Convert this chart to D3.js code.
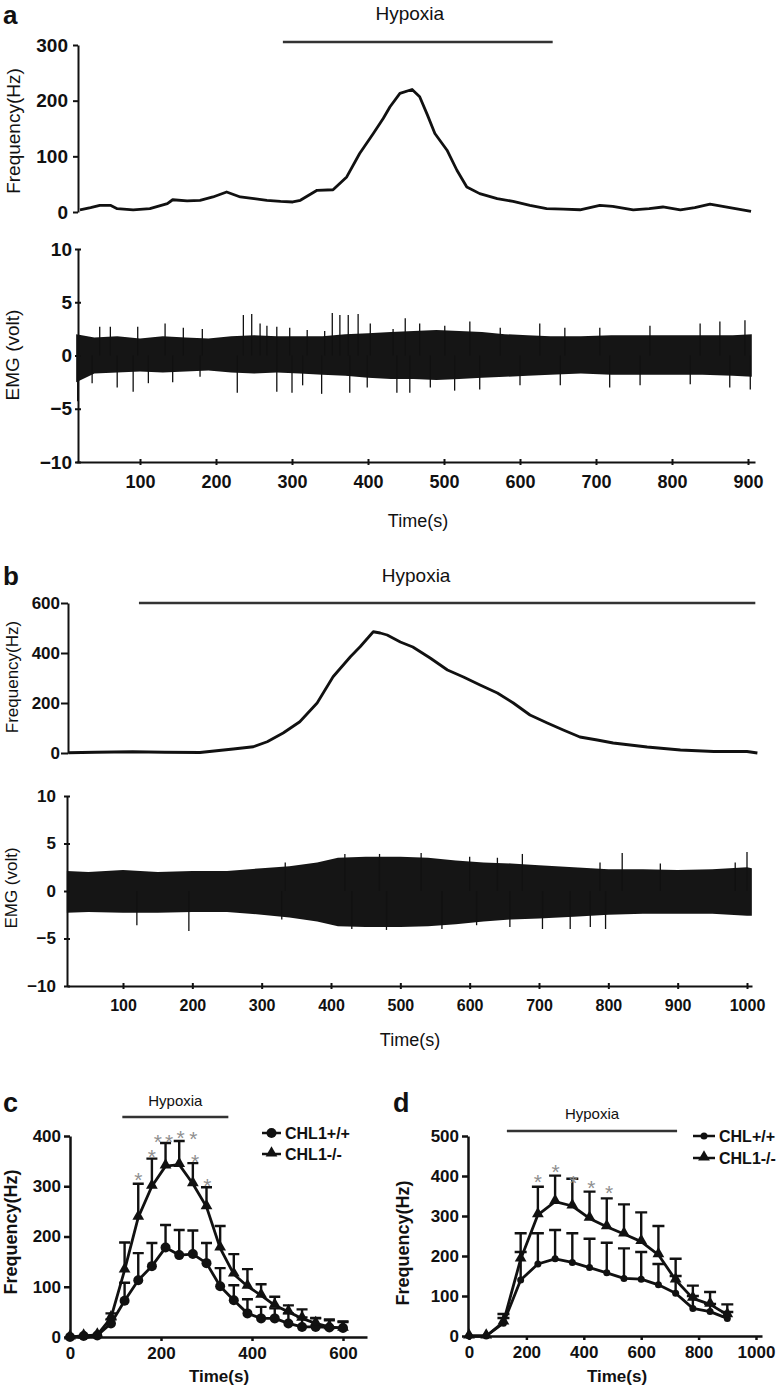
<!DOCTYPE html>
<meta charset="utf-8">
<style>
body { margin: 0; background: #fff; }
text { font-family: "Liberation Sans", Arial, sans-serif; fill: #111; }
.trace { fill: none; stroke: #111; stroke-width: 2.8; stroke-linejoin: round; }
.bar { stroke: #333; stroke-width: 2.6; }
.spike { stroke: #111; stroke-width: 1.3; }
.err { stroke: #111; stroke-width: 2.4; fill: none; }
.star { fill: #8f8f8f; }
</style>
<body></body>
<script src="https://cdn.jsdelivr.net/npm/d3@7"></script>
<script>

// ---- panel a : frequency trace [time s, Hz]
var freqA = [[21,4],[35,8],[47,12],[61,12],[70,6],[91,4],[113,6],[136,15],[143,22],[162,20],[179,21],
  [196,27],[214,36],[232,27],[250,24],[267,21],[285,19],[301,18],[311,21],[333,39],[354,40],[372,63],
  [389,105],[407,141],[420,168],[429,189],[442,213],[458,220],[468,207],[478,175],[488,141],[504,111],
  [517,75],[530,45],[547,33],[570,24],[591,19],[613,12],[635,6],[657,5],[679,4],[705,12],[722,10],
  [749,4],[770,6],[788,9],[811,4],[830,8],[850,14],[876,8],[904,1]];
var hypoxiaA = [288, 643];

// panel a : EMG envelope [time, upper, lower] (volt) and single spikes [time, volt]
var emgA = [[16,2.0,-2.5],[40,1.7,-1.7],[70,1.8,-1.6],[100,1.6,-1.5],[130,1.8,-1.6],[160,1.7,-1.5],
  [190,1.6,-1.4],[220,1.8,-1.6],[250,1.9,-1.7],[280,1.8,-1.6],[310,1.8,-1.7],[340,1.8,-1.8],[370,2.0,-1.9],
  [400,2.1,-2.1],[430,2.2,-2.2],[460,2.3,-2.2],[490,2.4,-2.3],[520,2.3,-2.2],[550,2.2,-2.1],[580,2.0,-2.0],
  [610,1.9,-1.9],[640,1.8,-1.8],[680,1.8,-1.7],[720,1.9,-1.8],[760,1.9,-1.8],[800,1.9,-1.8],[840,1.9,-1.8],
  [880,1.9,-1.9],[905,2.0,-2.0]];
var spikesA = [[47,2.7],[61,2.7],[97,2.7],[133,3.0],[157,2.6],[182,2.5],[236,3.8],[247,3.9],[258,3.0],
  [267,2.8],[280,2.7],[297,2.6],[320,2.4],[343,2.3],[353,4.0],[363,3.8],[374,3.8],[387,3.9],[403,3.0],
  [433,2.5],[449,3.5],[468,3.0],[501,2.8],[534,3.2],[574,2.6],[626,3.0],[659,2.6],[705,2.6],[771,2.8],
  [837,3.0],[863,3.2],[896,3.3],
  [18,-4.3],[37,-2.6],[70,-3.0],[91,-3.4],[111,-2.6],[143,-2.5],[179,-2.0],[228,-3.5],[280,-3.4],
  [300,-3.5],[314,-2.8],[339,-3.6],[376,-3.5],[399,-3.0],[438,-3.5],[455,-3.5],[482,-3.0],[514,-3.3],
  [547,-3.2],[600,-2.8],[653,-2.8],[718,-3.0],[758,-2.8],[824,-2.7],[876,-3.0],[903,-3.2]];

// ---- panel b
var freqB = [[21,1],[60,3],[114,5],[160,3],[211,2],[259,16],[288,25],[308,45],[331,80],[355,125],
  [380,200],[403,305],[428,385],[442,425],[461,485],[471,480],[481,472],[500,444],[518,424],[543,380],
  [568,332],[591,304],[615,272],[640,240],[663,200],[687,152],[712,120],[735,92],[759,64],[784,52],
  [807,40],[856,24],[904,12],[952,6],[1000,6],[1015,0]];
var hypoxiaB = [123, 1012];
var emgB = [[19,2.1,-2.3],[50,2.0,-2.2],[100,2.2,-2.3],[150,2.0,-2.3],[200,2.1,-2.2],[250,2.1,-2.2],
  [300,2.4,-2.5],[340,2.6,-2.8],[380,3.0,-3.2],[410,3.5,-3.7],[450,3.6,-3.8],[500,3.6,-3.8],[540,3.5,-3.7],
  [580,3.2,-3.5],[620,3.0,-3.2],[660,2.9,-3.0],[700,2.7,-2.9],[750,2.5,-2.7],[800,2.3,-2.5],[850,2.3,-2.4],
  [900,2.2,-2.4],[950,2.3,-2.4],[1000,2.5,-2.6],[1007,2.4,-2.6]];
var spikesB = [[334,3.0],[420,3.9],[470,3.9],[530,4.0],[600,3.6],[640,3.5],[676,3.9],[788,3.0],[820,4.0],
  [875,2.9],[983,3.0],[1000,4.1],
  [120,-3.6],[195,-4.2],[329,-3.0],[430,-4.0],[480,-4.1],[560,-4.0],[610,-3.6],[658,-3.8],[705,-4.0],
  [745,-4.0],[774,-3.8],[796,-4.0]];

// ---- panel c : mean and SEM, every 30 s
var timeC = [0,30,60,90,120,150,180,210,240,270,300,330,360,390,420,450,480,510,540,570,600];
var wtC   = [0,2,3,27,72,113,141,178,163,165,147,101,73,47,37,37,27,20,20,19,18];
var wtCsem = [0,0,0,8,36,54,46,45,50,47,40,36,30,28,23,20,20,19,17,14,12];
var koC   = [0,2,4,38,133,238,300,340,343,305,259,177,125,101,83,63,50,37,27,20,17];
var koCsem = [0,0,0,9,55,67,55,46,47,41,39,44,40,34,22,17,13,18,11,15,14];
var starsC = [[150,322],[180,369],[193,399],[218,399],[243,405],[271,404],[275,359],[302,311]];
var hypoxiaC = [115, 348];
var legendC = ["CHL1+/+", "CHL1-/-"];

// ---- panel d : mean and SEM, every 60 s
var timeD = [0,60,120,180,240,300,360,420,480,540,600,660,720,780,840,900];
var wtD   = [0,0,32,140,180,193,184,171,158,144,142,128,107,69,61,44];
var wtDsem = [0,0,13,70,77,72,73,72,75,75,68,52,43,31,19,16];
var koD   = [0,0,35,192,303,336,325,294,273,255,236,203,140,94,79,53];
var koDsem = [0,0,20,65,70,65,68,67,71,74,73,72,53,32,31,26];
var starsD = [[240,397],[302,423],[364,394],[426,383],[488,369]];
var hypoxiaD = [132, 725];
var legendD = ["CHL+/+", "CHL1-/-"];

var FONT = "'Liberation Sans', Arial, sans-serif";
var fmt = d3.format("d");
var svg = d3.select("body").append("svg").attr("width", 783).attr("height", 1390);

function styleAxis(g, fs, bold, sw) {
  g.attr("font-family", FONT).attr("font-size", fs).attr("font-weight", bold ? "bold" : "normal");
  g.selectAll("path, line").attr("stroke", "#111").attr("stroke-width", sw);
  g.selectAll("text").attr("fill", "#111");
}
function crossTicksY(g, s) { g.selectAll(".tick line").attr("x1", s).attr("x2", -s); }
function crossTicksX(g, s) { g.selectAll(".tick line").attr("y1", -s).attr("y2", s); }

function label(x, y, txt, fs, bold, rotate, anchor) {
  svg.append("text")
    .attr("transform", "translate(" + x + "," + y + ")" + (rotate ? " rotate(-90)" : ""))
    .attr("text-anchor", anchor || "middle")
    .attr("font-size", fs).attr("font-weight", bold ? "bold" : "normal")
    .text(txt);
}

function hypoxia(x, range, yBar, yText, fs, shift) {
  svg.append("line").attr("class", "bar")
    .attr("x1", x(range[0])).attr("x2", x(range[1])).attr("y1", yBar).attr("y2", yBar);
  svg.append("text").attr("x", (x(range[0]) + x(range[1])) / 2 + (shift || 0)).attr("y", yText)
    .attr("text-anchor", "middle").attr("font-size", fs).text("Hypoxia");
}

// ================= panel a =================
var xA = d3.scaleLinear().domain([100, 900]).range([140, 748]);
xA.domain([xA.invert(76), xA.invert(755)]).range([76, 755]);
var yAf = d3.scaleLinear().domain([0, 300]).range([212, 45]);
var yAe = d3.scaleLinear().domain([-10, 10]).range([462, 249]);

label(3, 24, "a", 26, true, false, "start");
hypoxia(xA, hypoxiaA, 42, 20, 19, -8);

svg.append("g").attr("transform", "translate(78,0)")
  .call(d3.axisLeft(yAf).tickValues([0, 100, 200, 300]).tickSizeInner(5).tickSizeOuter(0).tickPadding(5))
  .call(styleAxis, 19, true, 2);
svg.append("path").datum(freqA).attr("class", "trace")
  .attr("d", d3.line().x(d => xA(d[0])).y(d => yAf(d[1])));
label(20, 131, "Frequency(Hz)", 19, false, true);

svg.append("path").datum(emgA).attr("fill", "#151515")
  .attr("d", d3.area().x(d => xA(d[0])).y0(d => yAe(d[2])).y1(d => yAe(d[1])));
svg.append("g").selectAll("line").data(spikesA).join("line").attr("class", "spike")
  .attr("x1", d => xA(d[0])).attr("x2", d => xA(d[0]))
  .attr("y1", yAe(0)).attr("y2", d => yAe(d[1]));

svg.append("g").attr("transform", "translate(78,0)")
  .call(d3.axisLeft(yAe).tickValues([-10, -5, 0, 5, 10]).tickSizeInner(3).tickSizeOuter(0).tickPadding(3))
  .call(styleAxis, 19, true, 2).call(crossTicksY, 3);
svg.append("g").attr("transform", "translate(0,462)")
  .call(d3.axisBottom(xA).tickValues(d3.range(100, 1000, 100)).tickFormat(fmt)
    .tickSizeInner(3).tickSizeOuter(0).tickPadding(10))
  .call(styleAxis, 18, true, 2).call(crossTicksX, 3);
label(19, 355, "EMG  (volt)", 19, false, true);
label(418, 527, "Time(s)", 18, false);

// ================= panel b =================
var xB = d3.scaleLinear().domain([100, 1000]).range([123, 747]);
xB.domain([xB.invert(67), xB.invert(752)]).range([67, 752]);
var yBf = d3.scaleLinear().domain([0, 600]).range([753, 603]);
var yBe = d3.scaleLinear().domain([-10, 10]).range([986, 796]);

label(3, 585, "b", 26, true, false, "start");
hypoxia(xB, hypoxiaB, 603, 582, 19, -31);

svg.append("g").attr("transform", "translate(68,0)")
  .call(d3.axisLeft(yBf).tickValues([0, 200, 400, 600]).tickSizeInner(7).tickSizeOuter(0).tickPadding(1))
  .call(styleAxis, 17, true, 2);
svg.append("path").datum(freqB).attr("class", "trace")
  .attr("d", d3.line().x(d => xB(d[0])).y(d => yBf(d[1])));
label(18, 677, "Frequency(Hz)", 17, false, true);

svg.append("path").datum(emgB).attr("fill", "#151515")
  .attr("d", d3.area().x(d => xB(d[0])).y0(d => yBe(d[2])).y1(d => yBe(d[1])));
svg.append("g").selectAll("line").data(spikesB).join("line").attr("class", "spike")
  .attr("x1", d => xB(d[0])).attr("x2", d => xB(d[0]))
  .attr("y1", yBe(0)).attr("y2", d => yBe(d[1]));

svg.append("g").attr("transform", "translate(67,0)")
  .call(d3.axisLeft(yBe).tickValues([-10, -5, 0, 5, 10]).tickSizeInner(3).tickSizeOuter(0).tickPadding(8))
  .call(styleAxis, 17, true, 2).call(crossTicksY, 3);
svg.append("g").attr("transform", "translate(0,986)")
  .call(d3.axisBottom(xB).tickValues(d3.range(100, 1100, 100)).tickFormat(fmt)
    .tickSizeInner(3).tickSizeOuter(0).tickPadding(11))
  .call(styleAxis, 16, true, 2).call(crossTicksX, 3);
label(17, 888, "EMG (volt)", 17, false, true);
label(410, 1046, "Time(s)", 18, false);

// ================= panels c and d =================
function groupPanel(o) {
  var x = o.x, y = o.y;
  label(o.letterX, 1112, o.letter, 27, true, false, "start");
  hypoxia(x, o.hyp, o.hypY, o.hypTextY, o.hypFs);

  svg.append("g").attr("transform", "translate(" + x.range()[0] + ",0)")
    .call(d3.axisLeft(y).tickValues(o.yTicks).tickSizeInner(6).tickSizeOuter(0).tickPadding(3))
    .call(styleAxis, 17, true, 2.5);
  svg.append("g").attr("transform", "translate(0," + y.range()[0] + ")")
    .call(d3.axisBottom(x).tickValues(o.xTicks).tickFormat(fmt).tickSizeInner(4).tickSizeOuter(0).tickPadding(6))
    .call(styleAxis, 17, true, 2.5);
  label(o.yLabX, o.yLabY, "Frequency(Hz)", 18, true, true);
  label(o.xLabX, 1382, "Time(s)", 17, true);

  var series = [
    {m: o.wt, e: o.wtSem, sym: "circle"},
    {m: o.ko, e: o.koSem, sym: "tri"}
  ];
  series.forEach(function (s) {
    var g = svg.append("g");
    o.t.forEach(function (t, i) {
      if (s.e[i] <= 0) return;
      var top = y(s.m[i] + s.e[i]);
      g.append("path").attr("class", "err")
        .attr("d", "M" + x(t) + "," + y(s.m[i]) + "V" + top + "M" + (x(t) - o.cap) + "," + top + "H" + (x(t) + o.cap));
    });
  });
  series.forEach(function (s) {
    svg.append("path").datum(o.t.map((t, i) => [t, s.m[i]])).attr("class", "trace")
      .attr("stroke-width", o.lw)
      .attr("d", d3.line().x(d => x(d[0])).y(d => y(d[1])));
  });
  series.forEach(function (s) {
    var pts = o.t.map((t, i) => [t, s.m[i]]);
    if (s.sym === "circle") {
      svg.append("g").selectAll("circle").data(pts).join("circle")
        .attr("cx", d => x(d[0])).attr("cy", d => y(d[1])).attr("r", o.r).attr("fill", "#111");
    } else {
      svg.append("g").selectAll("path").data(pts).join("path")
        .attr("transform", d => "translate(" + x(d[0]) + "," + (y(d[1]) - 1) + ")")
        .attr("d", d3.symbol(d3.symbolTriangle, o.triSize)).attr("fill", "#111");
    }
  });

  svg.append("g").selectAll("text").data(o.stars).join("text").attr("class", "star")
    .attr("x", d => x(d[0])).attr("y", d => y(d[1]) + 12)
    .attr("text-anchor", "middle").attr("font-size", 21).text("*");

  // legend
  o.legend.forEach(function (name, i) {
    var ly = o.legY[i];
    svg.append("line").attr("x1", o.legX[0]).attr("x2", o.legX[1]).attr("y1", ly).attr("y2", ly)
      .attr("stroke", "#111").attr("stroke-width", 2.5);
    var cx = (o.legX[0] + o.legX[1]) / 2;
    if (i === 0) svg.append("circle").attr("cx", cx).attr("cy", ly).attr("r", o.r).attr("fill", "#111");
    else svg.append("path").attr("transform", "translate(" + cx + "," + (ly - 1) + ")")
      .attr("d", d3.symbol(d3.symbolTriangle, o.triSize)).attr("fill", "#111");
    svg.append("text").attr("x", o.legX[1] + 4).attr("y", ly + 6)
      .attr("font-size", 16).attr("font-weight", "bold").text(name);
  });
}

var xC = d3.scaleLinear().domain([0, 600]).range([70, 343]);
xC.domain([0, xC.invert(367)]).range([70, 367]);
var yC = d3.scaleLinear().domain([0, 400]).range([1337, 1136]);
groupPanel({
  x: xC, y: yC, letter: "c", letterX: 3, hyp: hypoxiaC, hypY: 1117, hypTextY: 1106, hypFs: 15,
  yTicks: [0, 100, 200, 300, 400], xTicks: [0, 200, 400, 600],
  yLabX: 17, yLabY: 1232, xLabX: 219,
  t: timeC, wt: wtC, wtSem: wtCsem, ko: koC, koSem: koCsem, stars: starsC,
  cap: 5.5, r: 5, triSize: 60, lw: 2.6,
  legend: legendC, legX: [262, 281], legY: [1133, 1154]
});

var xD = d3.scaleLinear().domain([0, 1000]).range([469, 756]);
xD.domain([xD.invert(468), xD.invert(762)]).range([468, 762]);
var yD = d3.scaleLinear().domain([0, 500]).range([1336, 1136]);
groupPanel({
  x: xD, y: yD, letter: "d", letterX: 393, hyp: hypoxiaD, hypY: 1131, hypTextY: 1119, hypFs: 15,
  yTicks: [0, 100, 200, 300, 400, 500], xTicks: [0, 200, 400, 600, 800, 1000],
  yLabX: 409, yLabY: 1243, xLabX: 617,
  t: timeD, wt: wtD, wtSem: wtDsem, ko: koD, koSem: koDsem, stars: starsD,
  cap: 6, r: 3.5, triSize: 60, lw: 2.2,
  legend: legendD, legX: [693, 715], legY: [1136, 1158]
});

</script>
